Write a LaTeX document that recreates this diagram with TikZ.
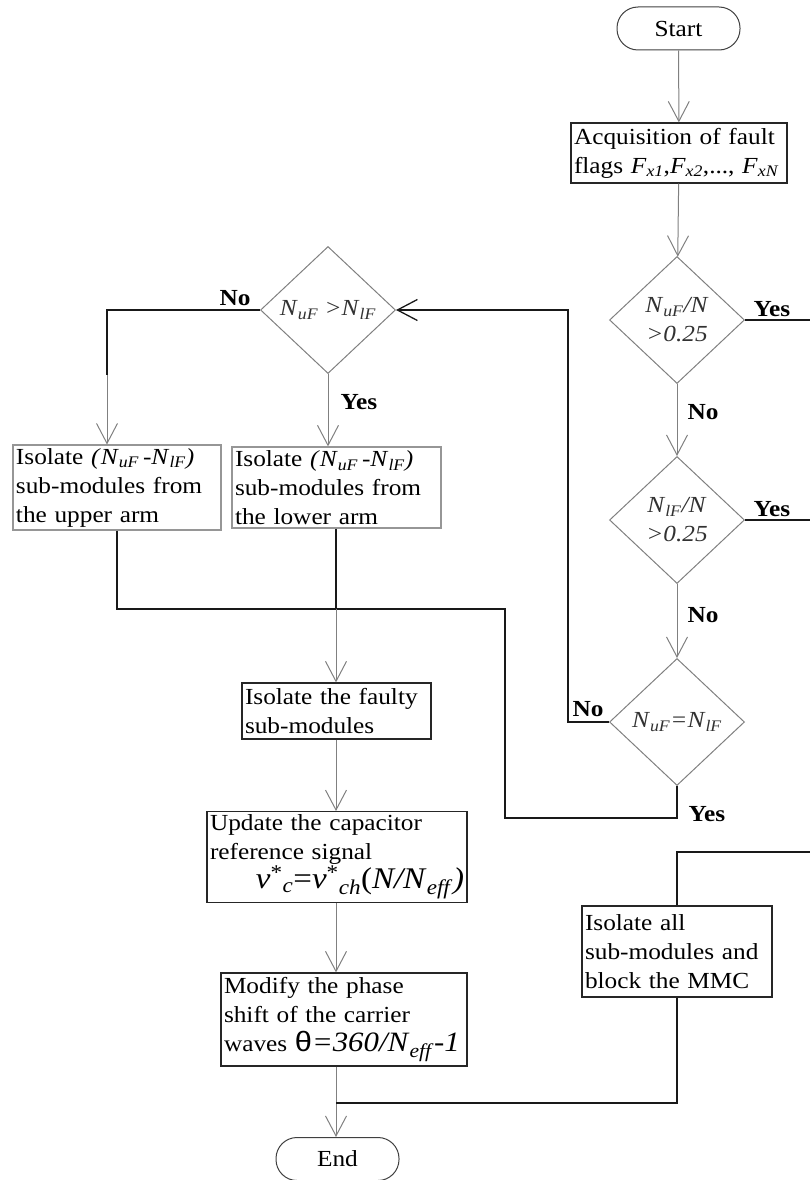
\documentclass[tikz,border=0pt]{standalone}
\usepackage{fontspec}
\setmainfont{Liberation Serif}[FakeStretch=1.1]
\newfontfamily\thetafont{Liberation Sans}[FakeStretch=1.1]
\usetikzlibrary{shapes.geometric,arrows.meta}

\definecolor{linegray}{RGB}{128,128,128}
\definecolor{boxgray}{RGB}{150,150,150}
\definecolor{txtgray}{RGB}{50,50,50}

% italic symbol with italic subscript
\newcommand\isub[2]{\textit{#1}\textsubscript{\textit{#2}}}
\newcommand\bodyfont{\fontsize{23}{29}\selectfont}

\tikzset{
  flowline/.style={draw=linegray, line width=1pt},
  arrowline/.style={flowline, -{Straight Barb[length=20pt,width=21pt]}},
  blackline/.style={draw=black!90, line width=1.3pt},
  procbox/.style={draw=black!85, line width=1.2pt, align=left, inner sep=3pt, font=\bodyfont},
  greybox/.style={procbox, draw=boxgray},
  decision/.style={diamond, draw=linegray, line width=1pt, minimum width=135pt,
    minimum height=127pt, inner sep=0pt, align=center, text=txtgray, font=\bodyfont},
  terminal/.style={draw=black!75, line width=1pt, rounded corners=21pt,
    minimum width=123pt, minimum height=43pt, inner sep=0pt, font=\bodyfont},
  lbl/.style={inner sep=0pt, font=\bodyfont\bfseries}
}

\begin{document}
\begin{tikzpicture}[x=1pt,y=-1pt]
\useasboundingbox (0,0) rectangle (810,1180);

% right column: checks on the fault flags
\node[terminal] (start) at (678.5,28.5) {Start};
\node[procbox, text width=210pt, minimum height=60pt] (acq) at (679,153)
  {Acquisition of fault\\flags \isub{F}{x1},\isub{F}{x2},..., \isub{F}{xN}};
\node[decision] (d1) at (677,320) {\isub{N}{uF}\textit{/N}\\\textit{>0.25}};
\node[decision] (d2) at (677,520) {\isub{N}{lF}\textit{/N}\\\textit{>0.25}};
\node[decision] (d3) at (677,722) {\isub{N}{uF}\textit{=}\isub{N}{lF}};
\node[procbox, text width=184pt, minimum height=91pt] (mmc) at (677,951.5)
  {Isolate all\\sub-modules and\\block the MMC};

% left column: unequal faults in the two arms
\node[decision] (d4) at (328,310) {\isub{N}{uF} \textit{>}\isub{N}{lF}};
\node[greybox, text width=202pt, minimum height=81pt] (upper) at (117,487.5)
  {Isolate \textit{(}\isub{N}{uF}\,\textit{-}\isub{N}{lF}\textit{)}\\sub-modules from\\the upper arm};
\node[greybox, text width=203pt, minimum height=81pt] (lower) at (336.5,487.5)
  {Isolate \textit{(}\isub{N}{uF}\,\textit{-}\isub{N}{lF}\textit{)}\\sub-modules from\\the lower arm};
\node[procbox, text width=183pt, minimum height=56pt] (faulty) at (336.5,711)
  {Isolate the faulty\\sub-modules};
\node[procbox, text width=254pt, minimum height=90pt] (update) at (337,857)
  {Update the capacitor\\reference signal\\
   \hspace*{\fill}{\fontsize{30}{30}\selectfont\textit{v}\textsuperscript{*}\textsubscript{\textit{c}}=\textit{v}\textsuperscript{*}\textsubscript{\textit{ch}}(\textit{N/N}\textsubscript{\textit{eff}}\textit{)}}};
\node[procbox, text width=240pt, minimum height=93pt] (modify) at (344,1019.5)
  {Modify the phase\\shift of the carrier\\
   \mbox{waves {\fontsize{28}{28}\selectfont{\thetafont θ}\textit{=360/N}\textsubscript{\textit{eff}}\textit{-1}}}};
\node[terminal] (stop) at (337.5,1159) {End};

% branch labels
\node[lbl] at (772,309) {Yes};
\node[lbl] at (772,509) {Yes};
\node[lbl] at (703,412) {No};
\node[lbl] at (703,615) {No};
\node[lbl] at (588,709) {No};
\node[lbl] at (707,814) {Yes};
\node[lbl] at (235,298) {No};
\node[lbl] at (359,402) {Yes};

% bend and junction points
\coordinate (yes1) at (810,320);
\coordinate (yes2) at (810,520);
\coordinate (fail) at (810,852);
\coordinate (back) at (568,310);
\coordinate (nobend) at (107,375);
\coordinate (joinA) at (336,609);
\coordinate (joinB) at (505,818);
\coordinate (joinC) at (336,1103);

% connectors
\draw[arrowline] (start) -- (acq);
\draw[arrowline] (acq) -- (d1);
\draw[arrowline] (d1) -- (d2);
\draw[arrowline] (d2) -- (d3);
\draw[blackline] (d1.east) -- (yes1);
\draw[blackline] (d2.east) -- (yes2);
\draw[blackline, -{Straight Barb[length=20pt,width=21pt]}] (d3.west) -| (back) -- (d4.east);
\draw[blackline] (d4.west) -| (nobend);
\draw[arrowline] (nobend) -- (nobend |- upper.north);
\draw[arrowline] (d4.south) -- (d4.south |- lower.north);
\draw[blackline] (upper.south) |- (joinB |- joinA) |- (d3.south |- joinB) -- (d3.south);
\draw[blackline] (joinA |- lower.south) -- (joinA);
\draw[arrowline] (joinA) -- (joinA |- faulty.north);
\draw[arrowline] (joinA |- faulty.south) -- (joinA |- update.north);
\draw[arrowline] (joinA |- update.south) -- (joinA |- modify.north);
\draw[arrowline] (joinA |- modify.south) -- (joinA |- stop.north);
\draw[blackline] (fail) -| (mmc.north);
\draw[blackline] (mmc.south) |- (joinC);
\end{tikzpicture}
\end{document}
